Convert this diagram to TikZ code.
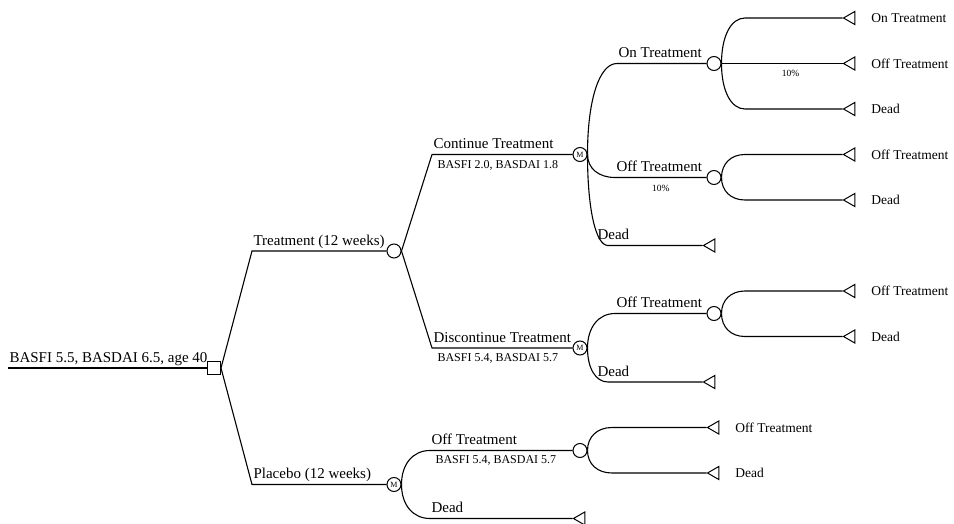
\documentclass[tikz,border=0pt]{standalone}
\usepackage{fontspec}
\setmainfont{Liberation Serif}
\usetikzlibrary{shapes.geometric, positioning, calc}

\begin{document}
\begin{tikzpicture}[
            x=1pt, y=-1pt,
            decision/.style={rectangle, draw, fill=white, line width=1pt, minimum size=13pt, inner sep=0pt},
            chance/.style={circle, draw, fill=white, line width=1pt, minimum size=14pt, inner sep=0pt},
            markov/.style={chance, font=\fontsize{8}{8}\selectfont},
            terminal/.style={regular polygon, regular polygon sides=3, shape border rotate=90, draw, line width=1pt, minimum size=15pt, inner sep=0pt},
            branch/.style={line width=1.1pt},
            curvy/.style={to path={.. controls ($(\tikztostart)!0.6!(\tikztostart|-\tikztotarget)$) and ($(\tikztotarget)!0.6!(\tikztostart|-\tikztotarget)$) .. (\tikztotarget)}},
            lbl/.style={font=\fontsize{15}{17}\selectfont, anchor=base west, inner sep=0pt, xshift=1pt, yshift=6pt},
            sublbl/.style={font=\fontsize{12}{14}\selectfont, anchor=north west, inner sep=0pt, xshift=5pt, yshift=-5pt},
            leaflbl/.style={font=\fontsize{13.5}{15}\selectfont, inner sep=0pt},
            pct/.style={font=\fontsize{9.5}{11}\selectfont, inner sep=0pt}
        ]
            \useasboundingbox (0,0) rectangle (954,524);

            % nodes
            \coordinate (start) at (8,368);
            \node[decision] (dec) at (214,368) {};
            \node[chance] (c1) at (394,251) {};
            \node[markov] (m1) at (394,484.5) {M};
            \node[markov] (m2) at (580,154.5) {M};
            \node[markov] (m3) at (580,348) {M};
            \node[chance] (c2) at (714,63.5) {};
            \node[chance] (c3) at (714,177.5) {};
            \node[chance] (c4) at (714,313.5) {};
            \node[chance] (c5) at (580,450.5) {};

            % terminals
            \node[terminal] (t1) at (851,18) {};
            \node[terminal] (t2) at (851,63.5) {};
            \node[terminal] (t3) at (851,109) {};
            \node[terminal] (t4) at (851,154.5) {};
            \node[terminal] (t5) at (851,200) {};
            \node[terminal] (t6) at (711,245.5) {};
            \node[terminal] (t7) at (851,291) {};
            \node[terminal] (t8) at (851,336.5) {};
            \node[terminal] (t9) at (711,382) {};
            \node[terminal] (t10) at (715,427.5) {};
            \node[terminal] (t11) at (715,473) {};
            \node[terminal] (t12) at (581,518.5) {};

            \node[leaflbl, right=16pt of t1] (n1) {On Treatment};
            \node[leaflbl, right=16pt of t2] (n2) {Off Treatment};
            \node[leaflbl, right=16pt of t3] (n3) {Dead};
            \node[leaflbl, right=16pt of t4] (n4) {Off Treatment};
            \node[leaflbl, right=16pt of t5] (n5) {Dead};
            \node[leaflbl, right=16pt of t7] (n7) {Off Treatment};
            \node[leaflbl, right=16pt of t8] (n8) {Dead};
            \node[leaflbl, right=16pt of t10] (n10) {Off Treatment};
            \node[leaflbl, right=16pt of t11] (n11) {Dead};

            % branch corners
            \coordinate (k1) at (252,251);
            \coordinate (k2) at (252,484.5);
            \coordinate (k3) at (432,154.5);
            \coordinate (k4) at (432,348);
            \coordinate (k5) at (430,450.5);
            \coordinate (k6) at (430,518.5);
            \coordinate (k7) at (617,63.5);
            \coordinate (k8) at (615,177.5);
            \coordinate (k9) at (608,245.5);
            \coordinate (k10) at (615,313.5);
            \coordinate (k11) at (608,382);
            \coordinate (k12) at (612,427.5);
            \coordinate (k13) at (612,473);
            \coordinate (k14) at (745,18);
            \coordinate (k15) at (745,109);
            \coordinate (k16) at (745,154.5);
            \coordinate (k17) at (745,200);
            \coordinate (k18) at (745,291);
            \coordinate (k19) at (745,336.5);

            % root
            \draw[branch] (start) -- node[pos=0, lbl] (lroot) {BASFI 5.5, BASDAI 6.5, age 40} (dec);

            % level 1
            \draw[branch] (dec.east) -- (k1) -- node[pos=0, lbl] (ltreat) {Treatment (12 weeks)} (c1);
            \draw[branch] (dec.east) -- (k2) -- node[pos=0, lbl] (lplac) {Placebo (12 weeks)} (m1);

            % level 2
            \draw[branch] (c1.east) -- (k3) -- node[pos=0, lbl] (lcont) {Continue Treatment} node[pos=0, sublbl] (scont) {BASFI 2.0, BASDAI 1.8} (m2);
            \draw[branch] (c1.east) -- (k4) -- node[pos=0, lbl] (ldisc) {Discontinue Treatment} node[pos=0, sublbl] (sdisc) {BASFI 5.4, BASDAI 5.7} (m3);
            \draw[branch] (m1.east) to[curvy] (k5) -- node[pos=0, lbl] (lpoff) {Off Treatment} node[pos=0, sublbl] (spoff) {BASFI 5.4, BASDAI 5.7} (c5);
            \draw[branch] (m1.east) to[curvy] (k6) -- node[pos=0, lbl] (lpdead) {Dead} (t12);

            % level 3
            \draw[branch] (m2.east) to[curvy] (k7) -- node[pos=0, lbl] (lcon) {On Treatment} (c2);
            \draw[branch] (m2.east) to[curvy] (k8) -- node[pos=0, lbl] (lcoff) {Off Treatment} node[pos=0.5, below=7pt, pct] (pcoff) {10\%} (c3);
            \draw[branch] (m2.east) to[curvy] (k9) -- node[pos=0, lbl, xshift=-12pt] (lcdead) {Dead} (t6);
            \draw[branch] (m3.east) to[curvy] (k10) -- node[pos=0, lbl] (ldoff) {Off Treatment} (c4);
            \draw[branch] (m3.east) to[curvy] (k11) -- node[pos=0, lbl, xshift=-12pt] (lddead) {Dead} (t9);
            \draw[branch] (c5.east) to[curvy] (k12) -- (t10);
            \draw[branch] (c5.east) to[curvy] (k13) -- (t11);

            % level 4
            \draw[branch] (c2.east) to[curvy] (k14) -- (t1);
            \draw[branch] (c2) -- node[pos=0.57, below=6pt, pct] (pon) {10\%} (t2);
            \draw[branch] (c2.east) to[curvy] (k15) -- (t3);
            \draw[branch] (c3.east) to[curvy] (k16) -- (t4);
            \draw[branch] (c3.east) to[curvy] (k17) -- (t5);
            \draw[branch] (c4.east) to[curvy] (k18) -- (t7);
            \draw[branch] (c4.east) to[curvy] (k19) -- (t8);
        \end{tikzpicture}
\end{document}
